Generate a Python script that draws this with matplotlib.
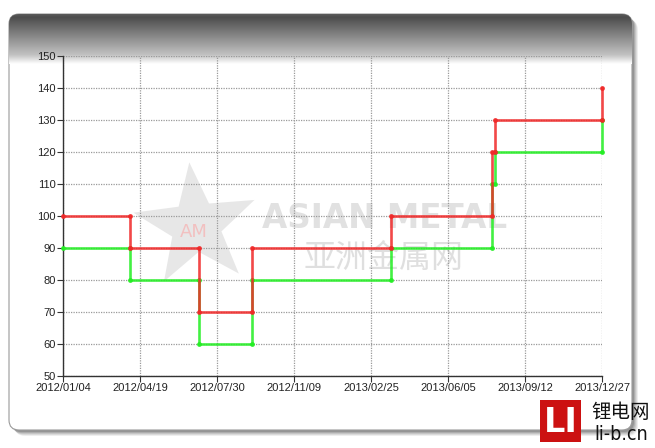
import numpy as np
import matplotlib
matplotlib.use("Agg")
import matplotlib.pyplot as plt
import matplotlib.dates as mdates
from matplotlib.patches import FancyBboxPatch, Polygon
from datetime import datetime

# price change dates and levels
change_dates = ["2012/01/04", "2012/04/03", "2012/07/05", "2012/09/14",
                "2013/03/19", "2013/08/01", "2013/08/06", "2013/12/27"]
high_price = [100, 90, 70, 90, 100, 120, 130, 140]
low_price = [90, 80, 60, 80, 90, 110, 120, 130]

tick_labels = ["2012/01/04", "2012/04/19", "2012/07/30", "2012/11/09",
               "2013/02/25", "2013/06/05", "2013/09/12", "2013/12/27"]
y_ticks = list(range(50, 151, 10))

W, H = 655, 448
fig = plt.figure(figsize=(W / 100, H / 100), dpi=100)

# background layer in pixel coordinates
bg = fig.add_axes([0, 0, 1, 1])
bg.axis("off")

px0, py0, px1, py1 = 9, 14, 632, 430
# soft shadow
for k, a in enumerate([0.08, 0.10, 0.12, 0.16, 0.2]):
    off = 6 - k
    sh = FancyBboxPatch((px0 + off, py0 + off), px1 - px0, py1 - py0,
                        boxstyle="round,pad=0,rounding_size=10",
                        fc="#303030", ec="none", alpha=a)
    bg.add_patch(sh)
panel = FancyBboxPatch((px0, py0), px1 - px0, py1 - py0,
                       boxstyle="round,pad=0,rounding_size=10",
                       fc="white", ec="#9a9a9a", lw=0.8)
bg.add_patch(panel)
# dark header gradient
rows = np.linspace(py0, 64, 200)
grad = np.interp(rows, [py0, 17, 55, 64], [0.36, 0.30, 0.76, 1.0])
grad = np.tile(grad[:, None], (1, 2))
im = bg.imshow(grad, cmap="gray", vmin=0, vmax=1, aspect="auto",
               extent=(px0, px1, 64, py0), interpolation="bilinear",
               zorder=1.5)
im.set_clip_path(panel)
bg.set_xlim(0, W)
bg.set_ylim(H, 0)

# watermark star
ang = np.deg2rad(90 + np.arange(10) * 36 + 6)
rad = np.where(np.arange(10) % 2 == 0, 64, 26)
cx, cy = 196, 226
star = Polygon(np.c_[cx + rad * np.cos(ang), cy - rad * np.sin(ang)],
               closed=True, fc="#d4d4d4", ec="none", alpha=0.55, zorder=2)
bg.add_patch(star)
bg.text(cx - 2, cy + 6, "AM", color="#f2c0c0", fontsize=13, ha="center",
        va="center", family="DejaVu Sans", zorder=2)
bg.text(385, 219, "ASIAN METAL", color="#dadada", fontsize=23.5,
        fontweight="bold", ha="center", va="center", family="DejaVu Sans",
        alpha=0.8, zorder=2)
bg.text(384, 258, "亚洲金属网", color="#d8d8d8", fontsize=23,
        ha="center", va="center", family="Noto Sans CJK SC",
        alpha=0.8, zorder=2)

# main chart
ax = fig.add_axes([63 / W, 1 - 376 / H, (602 - 63) / W, (376 - 56) / H])
ax.patch.set_alpha(0)

dn = mdates.date2num([datetime.strptime(d, "%Y/%m/%d") for d in change_dates])


def step_xy(x, v):
    return np.repeat(x, 2)[1:], np.repeat(v, 2)[:-1]


gx, gy = step_xy(dn, low_price)
rx, ry = step_xy(dn, high_price)
ax.plot(gx, gy, color="#22ee22", lw=1.9, alpha=0.85, marker="o", ms=2.5,
        zorder=3, clip_on=False)
ax.plot(rx, ry, color="#f02828", lw=1.9, alpha=0.85, marker="o", ms=2.5,
        zorder=4, clip_on=False)

ax.set_xlim(dn[0], dn[-1])
ax.set_ylim(50, 150)
ax.set_yticks(y_ticks)
ax.set_xticks(np.linspace(dn[0], dn[-1], len(tick_labels)))
ax.set_xticklabels(tick_labels)
ax.grid(True, color="#9a9a9a", lw=0.9, linestyle=(0, (1, 1)))
for s in ["top", "right"]:
    ax.spines[s].set_visible(False)
for s in ["left", "bottom"]:
    ax.spines[s].set_color("#333333")
    ax.spines[s].set_linewidth(1.0)
ax.tick_params(length=4, width=0.8, color="#333333", labelcolor="#222222",
               labelsize=8, pad=1)
for lab in ax.get_xticklabels() + ax.get_yticklabels():
    lab.set_family("Liberation Sans")

# corner logo
logo = FancyBboxPatch((540, 400), 41, 42, boxstyle="square,pad=0",
                      fc="#cc1111", ec="none", zorder=5)
bg.add_patch(logo)
bg.text(560.5, 422, "LI", color="white", fontsize=24, fontweight="bold",
        ha="center", va="center", family="DejaVu Sans", zorder=6)
bg.text(621, 412, "锂电网", color="#111111", fontsize=14, ha="center",
        va="center", family="Noto Sans CJK SC", zorder=6)
bg.text(621, 435, "li-b.cn", color="#111111", fontsize=14, ha="center",
        va="center", family="DejaVu Sans", fontstretch="condensed", zorder=6)

fig.savefig("out.png", dpi=100)
